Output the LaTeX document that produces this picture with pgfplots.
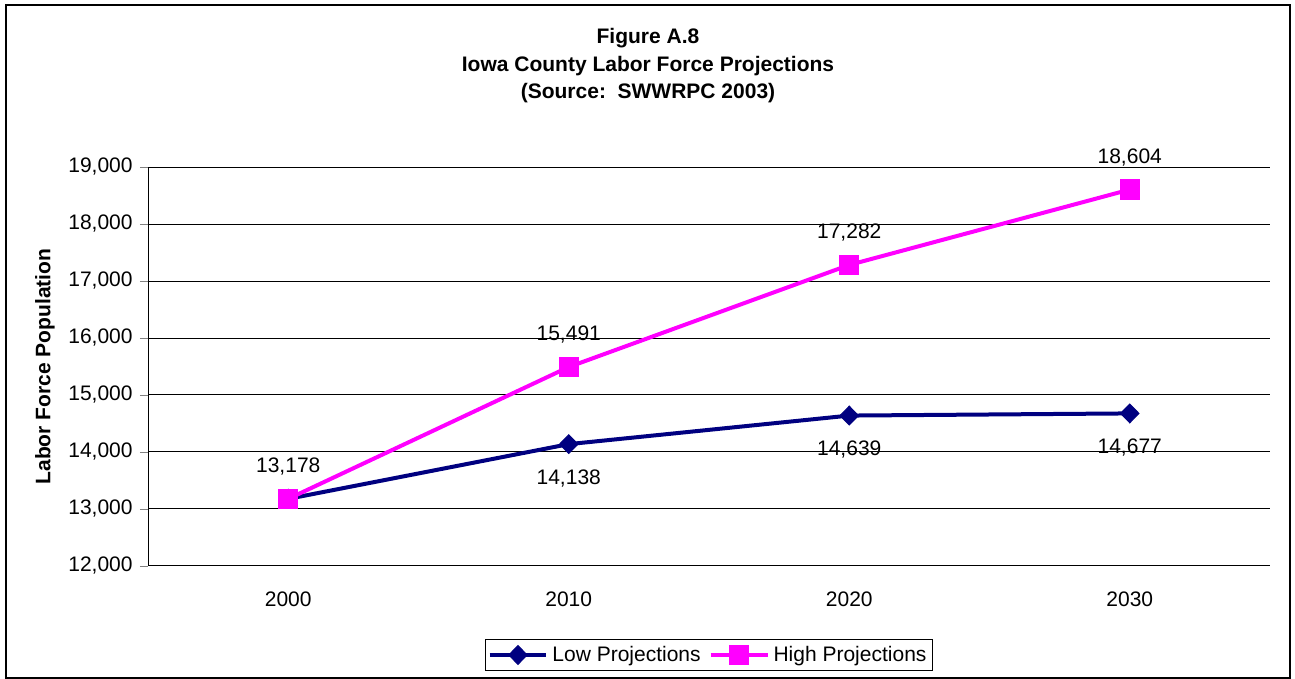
\documentclass[border=0pt]{standalone}
\usepackage{pgfplots}
\pgfplotsset{compat=1.18}
\usepackage{fontspec}
\setmainfont{Liberation Sans}
\definecolor{lownavy}{RGB}{0,0,128}
\definecolor{highmag}{RGB}{255,0,255}
\begin{document}
\begin{tikzpicture}
\fontsize{10.5}{12.6}\selectfont
\path (0,0) rectangle (647.5pt,339.5pt);
\draw[black, line width=0.8pt] (3pt,0.4pt) rectangle (645pt,337pt);
\node[font=\bfseries\fontsize{10.5}{12.6}\selectfont] at (324pt,320.5pt) {Figure A.8};
\node[font=\bfseries\fontsize{10.5}{12.6}\selectfont] at (324pt,306.5pt) {Iowa County Labor Force Projections};
\node[font=\bfseries\fontsize{10.5}{12.6}\selectfont] at (324pt,293pt) {(Source:\ \ SWWRPC 2003)};
\begin{axis}[
  at={(74pt,56.5pt)}, anchor=south west,
  scale only axis, width=561pt, height=199.5pt,
  xmin=-0.5, xmax=3.5, ymin=12000, ymax=19000,
  axis x line=bottom, axis y line=left,
  axis line style={-, black, line width=0.5pt},
  xtick={0,1,2,3}, xticklabels={2000,2010,2020,2030},
  major x tick style={draw=none},
  extra x ticks={-0.5,0.5,1.5,2.5,3.5}, extra x tick labels={},
  extra x tick style={major tick length=4pt, tick align=outside, tick style={black, line width=0.5pt}, grid=none},
  xticklabel style={yshift=-5pt},
  ytick={12000,13000,...,19000},
  yticklabel style={/pgf/number format/1000 sep={,}},
  /pgf/number format/assume math mode=true,
  scaled y ticks=false,
  tick align=outside, major tick length=4pt,
  ymajorgrids, major grid style={black, line width=0.5pt},
  ylabel={\bfseries Labor Force Population},
  ylabel style={at={(axis description cs:0,0.5)}, anchor=center, yshift=51.5pt},
  tick label style={font=\fontsize{10.5}{12.6}\selectfont},
  legend style={at={(axis description cs:0.5,-0.223)}, anchor=center, draw=black, line width=0.5pt,
    legend columns=2, font=\fontsize{10.5}{12.6}\selectfont,
    inner sep=1pt, /tikz/every even column/.append style={column sep=2pt}},
  legend image code/.code={
    \draw[#1, mark repeat=2, mark phase=2] plot coordinates {(0cm,0cm) (0.5cm,0cm) (1cm,0cm)};},
  clip=false,
]
\addplot[lownavy, line width=2pt, mark=diamond*, mark size=4.7pt, mark options={solid, line width=0.5pt, xscale=1.3}]
  coordinates {(0,13178) (1,14138) (2,14639) (3,14677)};
\addlegendentry{Low Projections}
\addplot[highmag, line width=2pt, mark=square*, mark size=4.8pt, mark options={solid, line width=0.5pt},
  nodes near coords={\pgfmathprintnumber[1000 sep={,}]{\pgfplotspointmeta}},
  nodes near coords style={black, anchor=south, yshift=8pt, font=\fontsize{10.5}{12.6}\selectfont, /pgf/number format/assume math mode=true},
  point meta=y]
  coordinates {(0,13178) (1,15491) (2,17282) (3,18604)};
\addlegendentry{High Projections}
\addplot[draw=none, mark=none, forget plot, skip coords between index={0}{1},
  nodes near coords={\pgfmathprintnumber[1000 sep={,}]{\pgfplotspointmeta}},
  nodes near coords style={black, anchor=north, yshift=-9pt, font=\fontsize{10.5}{12.6}\selectfont, /pgf/number format/assume math mode=true},
  point meta=y]
  coordinates {(0,13178) (1,14138) (2,14639) (3,14677)};
\end{axis}
\end{tikzpicture}
\end{document}
